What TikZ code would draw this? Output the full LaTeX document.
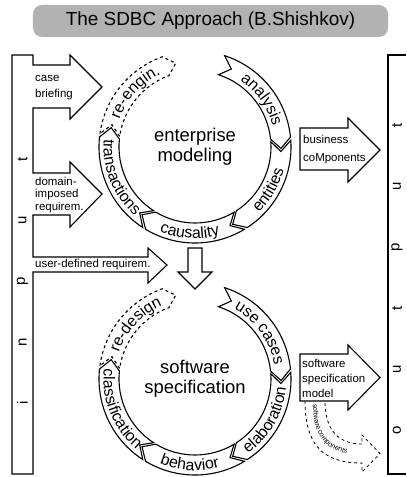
\documentclass[tikz,border=0pt]{standalone}
\usepackage{fontspec}
\setmainfont{Liberation Sans}
\usetikzlibrary{calc,decorations.text}

% ring sizes
\def\Rout{96bp}
\def\Rin{76bp}
\def\Rmid{86bp}
\def\Tip{7}
\newcommand{\ringfont}{\fontsize{16}{16}\selectfont}

% one chevron piece of a ring: centre, from angle, to angle, extra style
\newcommand{\ringpart}[4]{%
  \draw[outline,#4] ($(#1)+(#2:\Rout)$) arc[start angle=#2, end angle=#3, radius=\Rout]
    -- ($(#1)+(#3-\Tip:\Rmid)$) -- ($(#1)+(#3:\Rin)$)
    arc[start angle=#3, end angle=#2, radius=\Rin]
    -- ($(#1)+(#2-\Tip:\Rmid)$) -- cycle;}
% text on a ring: centre, from angle, to angle, radius, text
\newcommand{\ringlabel}[5]{%
  \path[decorate, decoration={text along path, text align=center, text={|\ringfont|#5}}]
    ($(#1)+(#2:#4)$) arc[start angle=#2, end angle=#3, radius=#4];}

\tikzset{
  outline/.style={draw, line width=1.1bp},
  boxtext/.style={inner sep=0pt, anchor=west, align=left, font=\fontsize{11.5}{#1}\selectfont},
  boxtext/.default=14,
  letter/.style={rotate=90, inner sep=0pt, font=\fontsize{15}{15}\selectfont},
  center text/.style={align=center, inner sep=0pt, font=\fontsize{18.5}{20}\selectfont},
}

\begin{document}
\begin{tikzpicture}[x=1bp,y=-1bp]
    \useasboundingbox (0,0) rectangle (406,477);
    %Title
    \node[fill=gray!60, rounded corners=9bp, minimum width=355bp, minimum height=32bp,
          inner sep=0pt, font=\fontsize{19}{19}\selectfont] (title) at (210.5,21) {The SDBC Approach (B.Shishkov)};
    %Input bar with its arrows
    \draw[outline] (12,55) -- (33,55) -- (33,65) -- (70,65) -- (70,55) -- (102,87) -- (70,119) -- (70,108) -- (33,108)
        -- (33,173) -- (70,173) -- (70,162) -- (102,194) -- (70,227) -- (70,215) -- (33,215)
        -- (33,257) -- (148,257) -- (148,248) -- (167,265) -- (148,283) -- (148,272) -- (33,272)
        -- (33,474) -- (12,474) -- cycle;
    \foreach \ch [count=\k] in {i,n,p,u,t}
        \node[letter] (in\k) at (22.5,464-61*\k) {\ch};
    \node[boxtext=16]   (brief)   at (35,88)  {case\\briefing};
    \node[boxtext=12.5] (domreq)  at (35,195) {domain-\\imposed\\requirem.};
    \node[boxtext]      (userreq) at (35,265) {user-defined requirem.};
    %Output bar
    \draw[outline] (406,55) -| (388,474) -- (406,474);
    \foreach \ch [count=\k] in {o,u,t,p,u,t}
        \node[letter] (out\k) at (397,491-61*\k) {\ch};
    %Output arrows
    \draw[outline] (300,128) -- (348,128) -- (348,118) -- (380,150) -- (348,182) -- (348,170) -- (300,170) -- cycle;
    \node[boxtext=18] (buscomp) at (303,150) {business\\coMponents};
    \draw[outline] (300,354) -- (348,354) -- (348,345) -- (380,377.5) -- (348,410) -- (348,401) -- (300,401) -- cycle;
    \node[boxtext=15] (swmodel) at (302,378) {software\\specification\\model};
    \draw[outline, dashed, line width=0.8bp] (305,401) .. controls (305,452) and (330,463) .. (362,463)
        -- (362,472) -- (380,453.5) -- (362,435) -- (362,444) .. controls (340,444) and (325,432) .. (325,401);
    \path[decorate, decoration={text along path, text={|\fontsize{7}{7}\selectfont|software components}}]
        (313,404) .. controls (313,448) and (335,456) .. (380,456);
    %Upper ring
    \coordinate (C1) at (195,147);
    \ringpart{C1}{72}{6}{}
    \ringpart{C1}{4}{-57}{}
    \ringpart{C1}{-59}{-121}{}
    \ringpart{C1}{-123}{-186}{}
    \ringpart{C1}{-188}{-250}{dashed}
    \ringlabel{C1}{68.5}{2.5}{80.5bp}{analysis}
    \ringlabel{C1}{-60.5}{0.5}{91.5bp}{entities}
    \ringlabel{C1}{-124.5}{-62.5}{91.5bp}{causality}
    \ringlabel{C1}{-189.5}{-126.5}{91.5bp}{transactions}
    \ringlabel{C1}{168.5}{106.5}{80.5bp}{re-engin.}
    \node[center text] (entmod) at (C1) {enterprise\\modeling};
    %Down arrow
    \draw[outline] (188,248) -- (202,248) -- (202,272) -- (212,272) -- (195,289) -- (178,272) -- (188,272) -- cycle;
    %Lower ring
    \coordinate (C2) at (195,379);
    \ringpart{C2}{72}{6}{}
    \ringpart{C2}{4}{-57}{}
    \ringpart{C2}{-59}{-121}{}
    \ringpart{C2}{-123}{-186}{}
    \ringpart{C2}{-188}{-250}{dashed}
    \ringlabel{C2}{68.5}{2.5}{80.5bp}{use cases}
    \ringlabel{C2}{-60.5}{0.5}{91.5bp}{elaboration}
    \ringlabel{C2}{-124.5}{-62.5}{91.5bp}{behavior}
    \ringlabel{C2}{-189.5}{-126.5}{91.5bp}{classification}
    \ringlabel{C2}{168.5}{106.5}{80.5bp}{re-design}
    \node[center text] (swspec) at (C2) {software\\specification};
\end{tikzpicture}
\end{document}
